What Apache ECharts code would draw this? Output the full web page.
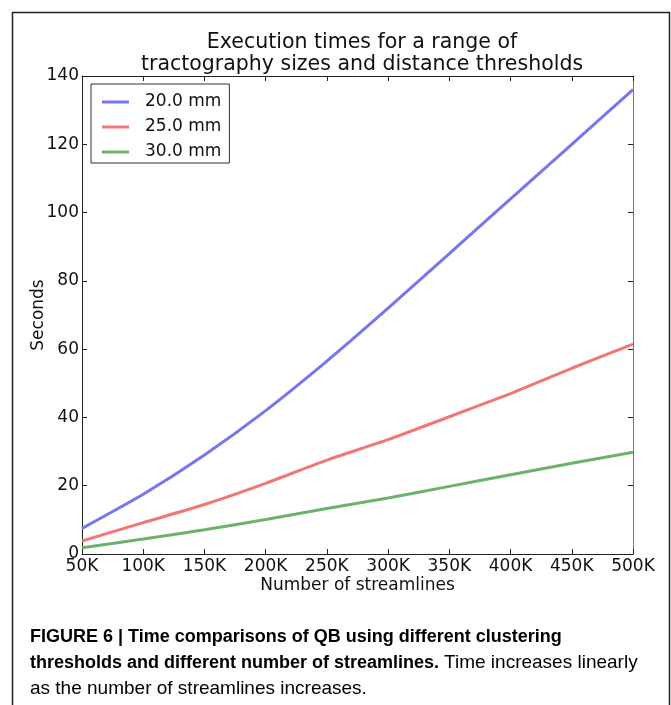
<!DOCTYPE html>
<html>
<head>
<meta charset="utf-8">
<script src="https://cdn.jsdelivr.net/npm/echarts@6/dist/echarts.min.js"></script>
<style>
  html, body { margin: 0; padding: 0; background: #fff; }
  #chart { width: 671px; height: 705px; }
</style>
</head>
<body>
<div id="chart"></div>
<script>
// number of streamlines
const streamlines = [50000, 100000, 150000, 200000, 250000, 300000, 350000, 400000, 450000, 500000];
// seconds per distance threshold
const secs20 = [7.5, 17.5, 29, 42, 56.5, 72, 88, 104, 120, 136];
const secs25 = [3.8, 9.2, 14.5, 20.7, 27.5, 33.5, 40.2, 47, 54.4, 61.5];
const secs30 = [1.8, 4.4, 7.1, 10.1, 13.3, 16.4, 19.8, 23.2, 26.6, 29.8];
const seriesNames = ['20.0 mm', '25.0 mm', '30.0 mm'];
const seriesColors = ['#7676ee', '#f27676', '#6cb26c'];

const font = 'DejaVu Sans';
const pair = (ys) => streamlines.map((x, i) => [x, ys[i]]);

const myChart = echarts.init(document.getElementById('chart'));

const tickInside = { show: true, inside: true, length: 5, lineStyle: { color: '#222' } };
const frameLine = { show: true, onZero: false, lineStyle: { color: '#222', width: 1 } };

myChart.setOption({
    backgroundColor: '#fff',
    animation: false,
    title: {
        text: 'Execution times for a range of\ntractography sizes and distance thresholds',
        left: 357,
        top: 27,
        textAlign: 'center',
        textStyle: { fontFamily: font, fontSize: 20.5, fontWeight: 'normal', color: '#111', lineHeight: 22 }
    },
    legend: {
        left: 91,
        top: 84,
        orient: 'vertical',
        icon: 'rect',
        itemWidth: 27,
        itemHeight: 3,
        itemGap: 7,
        padding: [9, 8, 2, 11],
        borderColor: '#333',
        borderWidth: 1,
        data: seriesNames,
        textStyle: { fontFamily: font, fontSize: 17, color: '#111', padding: [0, 0, 0, 11], lineHeight: 18 }
    },
    grid: { left: 82, right: 38, top: 76, bottom: 151 },
    xAxis: [{
        type: 'value',
        min: 50000,
        max: 500000,
        interval: 50000,
        position: 'bottom',
        name: 'Number of streamlines',
        nameLocation: 'middle',
        nameGap: 23,
        nameMoveOverlap: false,
        nameTextStyle: { fontFamily: font, fontSize: 17, color: '#111' },
        axisLine: frameLine,
        axisTick: tickInside,
        splitLine: { show: false },
        axisLabel: {
            fontFamily: font, fontSize: 17, color: '#111', margin: 4,
            formatter: (v) => (v / 1000) + 'K'
        }
    }, {
        type: 'value',
        min: 50000,
        max: 500000,
        interval: 50000,
        position: 'top',
        axisLine: frameLine,
        axisTick: tickInside,
        splitLine: { show: false },
        axisLabel: { show: false }
    }],
    yAxis: [{
        type: 'value',
        min: 0,
        max: 140,
        interval: 20,
        position: 'left',
        name: 'Seconds',
        nameLocation: 'middle',
        nameGap: 35,
        nameMoveOverlap: false,
        nameTextStyle: { fontFamily: font, fontSize: 17, color: '#111' },
        axisLine: frameLine,
        axisTick: tickInside,
        splitLine: { show: false },
        axisLabel: { fontFamily: font, fontSize: 17, color: '#111', margin: 3 }
    }, {
        type: 'value',
        min: 0,
        max: 140,
        interval: 20,
        position: 'right',
        axisLine: { show: true, onZero: false, lineStyle: { color: '#777', width: 1 } },
        axisTick: tickInside,
        splitLine: { show: false },
        axisLabel: { show: false }
    }],
    series: [secs20, secs25, secs30].map((ys, i) => ({
        name: seriesNames[i],
        type: 'line',
        data: pair(ys),
        symbol: 'none',
        smooth: 0.2,
        itemStyle: { color: seriesColors[i] },
        lineStyle: { color: seriesColors[i], width: 3 }
    })),
    graphic: [{
        type: 'rect',
        shape: { x: 12.5, y: 12.5, width: 657, height: 740 },
        style: { fill: 'none', stroke: '#222', lineWidth: 1.5 },
        silent: true
    }, {
        type: 'text',
        x: 30,
        y: 624,
        style: {
            text: '{b|FIGURE 6 | Time comparisons of QB using different clustering}\n' +
                  '{b|thresholds and different number of streamlines.} {r|Time increases linearly}\n' +
                  '{r|as the number of streamlines increases.}',
            fontFamily: 'Liberation Sans',
            fontSize: 18,
            lineHeight: 26,
            verticalAlign: 'top',
            rich: {
                b: { fontFamily: 'Liberation Sans', fontSize: 18, fontWeight: 'bold', color: '#111', lineHeight: 26 },
                r: { fontFamily: 'Liberation Sans', fontSize: 19, fontWeight: 'normal', color: '#444', lineHeight: 26 }
            }
        }
    }]
});
</script>
</body>
</html>
